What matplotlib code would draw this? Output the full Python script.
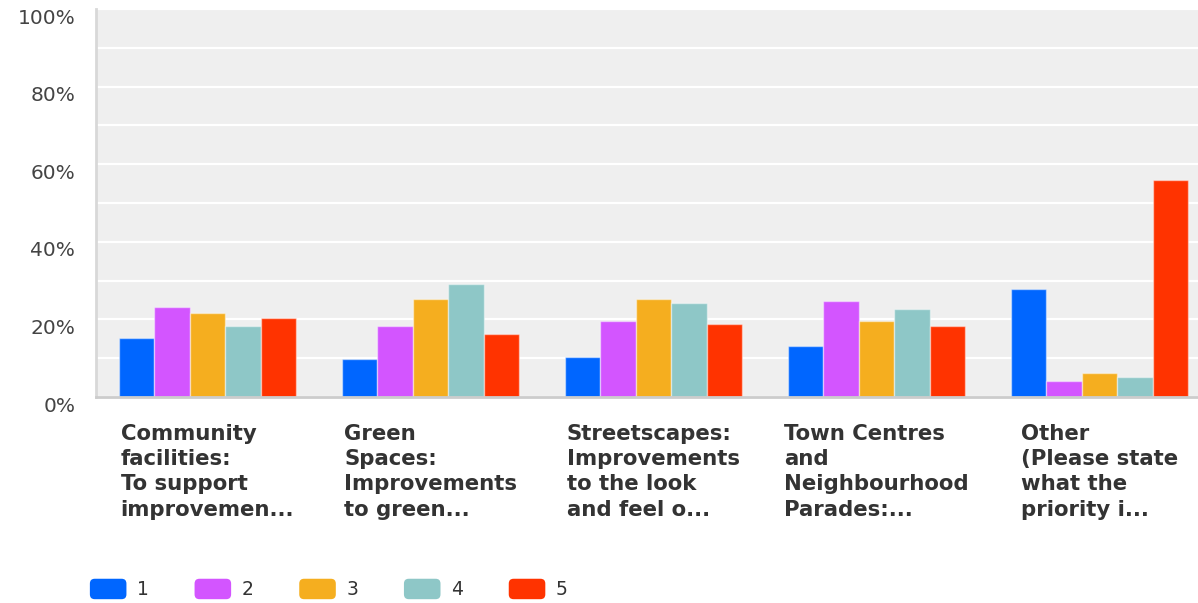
import matplotlib
matplotlib.use("Agg")
import matplotlib.pyplot as plt
import matplotlib.transforms as mtransforms
from matplotlib.patches import FancyBboxPatch, Patch
from matplotlib.legend_handler import HandlerPatch

categories = [
    "Community\nfacilities:\nTo support\nimprovemen...",
    "Green\nSpaces:\nImprovements\nto green...",
    "Streetscapes:\nImprovements\nto the look\nand feel o...",
    "Town Centres\nand\nNeighbourhood\nParades:...",
    "Other\n(Please state\nwhat the\npriority i...",
]
series_names = ["1", "2", "3", "4", "5"]
values_1 = [15.3, 9.7, 10.2, 13.2, 27.8]
values_2 = [23.3, 18.2, 19.7, 24.7, 4.2]
values_3 = [21.7, 25.2, 25.2, 19.7, 6.2]
values_4 = [18.2, 29.2, 24.2, 22.7, 5.2]
values_5 = [20.3, 16.2, 18.7, 18.2, 55.8]
series_values = [values_1, values_2, values_3, values_4, values_5]
colors = ["#0066ff", "#d355ff", "#f5ae1f", "#8ec7c7", "#ff3300"]
ytick_vals = [0, 20, 40, 60, 80, 100]
ytick_labels = ["0%", "20%", "40%", "60%", "80%", "100%"]

W, H = 1198, 603
fig = plt.figure(figsize=(W / 100, H / 100), dpi=100)
fig.patch.set_facecolor("white")
ax = fig.add_axes([96 / W, (H - 397) / H, 1115 / W, (397 - 9) / H])
ax.set_facecolor("#efefef")

bw = 0.159
n = len(series_values)
for k, (vals, col) in enumerate(zip(series_values, colors)):
    xs = [i + (k - (n - 1) / 2) * bw for i in range(len(categories))]
    ax.bar(xs, vals, width=bw, color=col, edgecolor=(1, 1, 1, 0.45),
           linewidth=1.0, zorder=3)

ax.set_xlim(-0.5, len(categories) - 0.5)
ax.set_ylim(0, 100)
ax.set_yticks(ytick_vals)
ax.set_yticklabels(ytick_labels, fontsize=14.5, color="#444444", family="DejaVu Sans")
ax.set_yticks(range(0, 101, 10), minor=True)
ax.tick_params(axis="y", which="both", length=0, pad=15)
offset = mtransforms.ScaledTranslation(0, -7 / 100, fig.dpi_scale_trans)
for lab in ax.get_yticklabels():
    lab.set_transform(lab.get_transform() + offset)
ax.set_xticks([])
ax.grid(True, axis="y", which="both", color="white", linewidth=1.6, zorder=1)
for s in ["top", "right"]:
    ax.spines[s].set_visible(False)
ax.spines["left"].set_color("#d8d8d8")
ax.spines["left"].set_linewidth(2)
ax.spines["bottom"].set_color("#cccccc")
ax.spines["bottom"].set_linewidth(2)
ax.spines["bottom"].set_zorder(4)

trans = mtransforms.blended_transform_factory(ax.transData, ax.transAxes)
for i, lab in enumerate(categories):
    ax.text(i, -0.069, lab, transform=trans, ha="center", va="top",
            multialignment="left", fontsize=15.3, fontweight="bold",
            color="#333333", family="DejaVu Sans", linespacing=1.33)


class RoundHandler(HandlerPatch):
    def create_artists(self, legend, orig_handle, xdescent, ydescent,
                       width, height, fontsize, trans):
        p = FancyBboxPatch((-xdescent + 2, -ydescent + 2), width - 4, height - 4,
                           boxstyle="round,pad=2,rounding_size=3.5",
                           facecolor=orig_handle.get_facecolor(),
                           edgecolor="none", transform=trans)
        return [p]


handles = [Patch(facecolor=c) for c in colors]
leg = fig.legend(handles, series_names, loc="center left",
                 bbox_to_anchor=(73 / W, (H - 589) / H), ncol=5, frameon=False,
                 fontsize=13.5, handlelength=1.95, handleheight=1.3,
                 handletextpad=0.55, columnspacing=2.45,
                 handler_map={Patch: RoundHandler()})
for t in leg.get_texts():
    t.set_color("#333333")

fig.savefig("out.png", dpi=100, facecolor="white")
